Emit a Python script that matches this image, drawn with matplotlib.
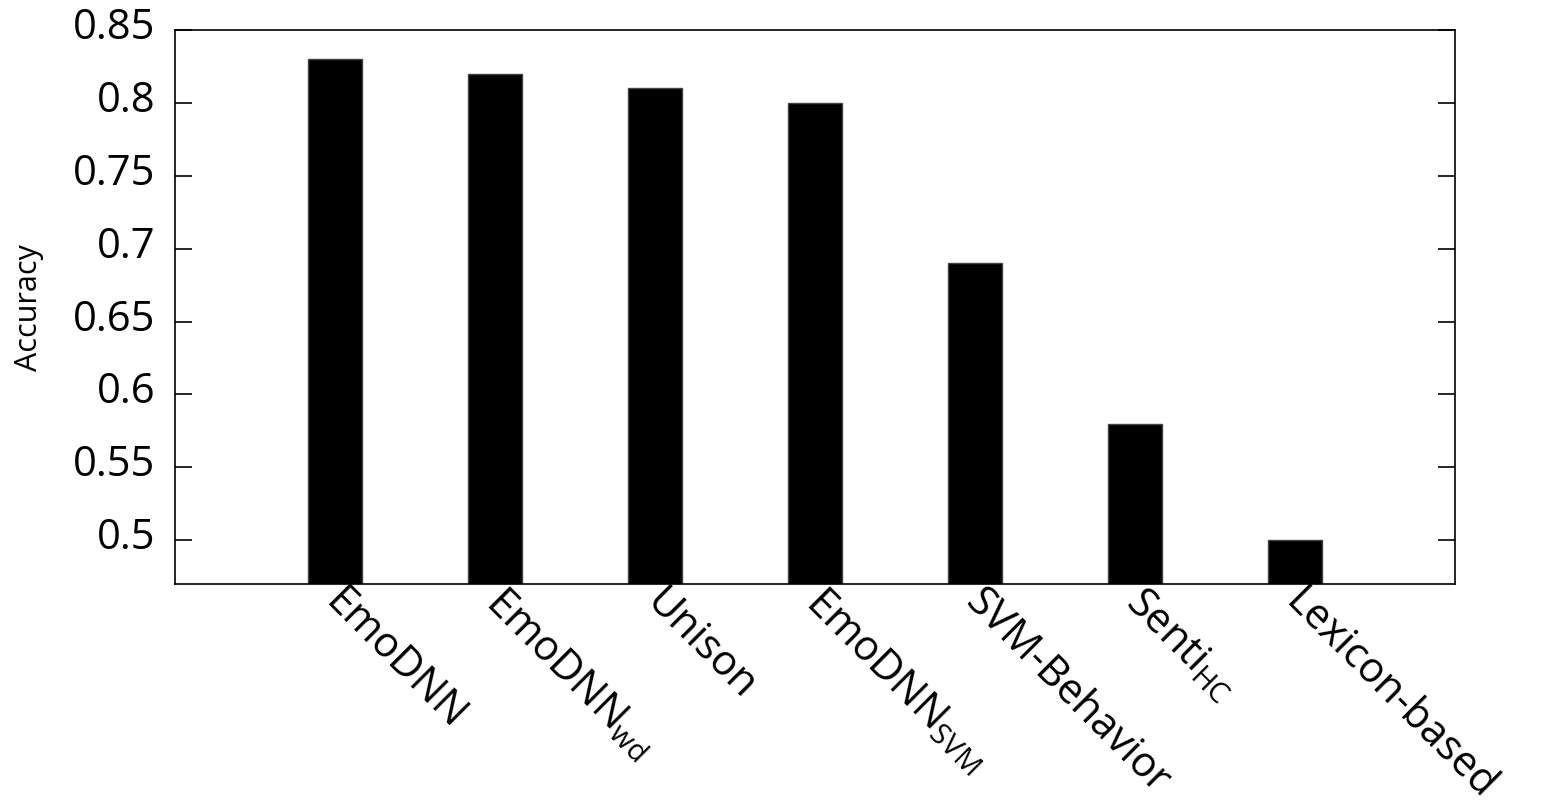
import numpy as np
import matplotlib
matplotlib.use("Agg")
import matplotlib.pyplot as plt
import matplotlib.transforms as mtransforms

# data
methods = ['EmoDNN', 'EmoDNN$_{\\mathrm{wd}}$', 'Unison', 'EmoDNN$_{\\mathrm{SVM}}$',
           'SVM-Behavior', 'Senti$_{\\mathrm{HC}}$', 'Lexicon-based']
accuracy = [0.83, 0.82, 0.81, 0.80, 0.69, 0.58, 0.50]
yticks = [0.5, 0.55, 0.6, 0.65, 0.7, 0.75, 0.8, 0.85]
ytick_labels = ['0.5', '0.55', '0.6', '0.65', '0.7', '0.75', '0.8', '0.85']

plt.rcParams['font.family'] = ['Open Sans', 'DejaVu Sans']
plt.rcParams['mathtext.fontset'] = 'custom'
plt.rcParams['mathtext.rm'] = 'Open Sans'
plt.rcParams['mathtext.it'] = 'Open Sans:italic'
plt.rcParams['mathtext.bf'] = 'Open Sans:bold'

fig = plt.figure(figsize=(15.64, 8.04), dpi=100)
ax = fig.add_axes([175 / 1564, 1 - 585 / 804, 1280 / 1564, 554 / 804])

x = np.arange(1, len(methods) + 1)
ax.bar(x, accuracy, width=0.34, color='black', edgecolor='#444444', linewidth=1)

ax.set_xlim(0, len(methods) + 1)
ax.set_ylim(0.47, 0.85)

ax.set_yticks(yticks)
ax.set_yticklabels(ytick_labels)
ax.tick_params(axis='y', direction='in', length=12, width=1.2, pad=14,
               labelsize=30, left=True, right=True)
ax.set_xticks(x)
ax.set_xticklabels(methods, rotation=-45, ha='left', va='top',
                   rotation_mode='anchor', fontsize=30)
ax.tick_params(axis='x', length=0, pad=0)

# y labels sit a little above their ticks, x labels start right at the tick
up = mtransforms.ScaledTranslation(0, 8 / 100, fig.dpi_scale_trans)
for lab in ax.get_yticklabels():
    lab.set_transform(lab.get_transform() + up)
right = mtransforms.ScaledTranslation(12 / 100, 4 / 100, fig.dpi_scale_trans)
for lab in ax.get_xticklabels():
    lab.set_transform(lab.get_transform() + right)

for spine in ax.spines.values():
    spine.set_linewidth(1.2)

fig.text(29 / 1564, 1 - 308 / 804, 'Accuracy', rotation=90,
         ha='center', va='center', fontsize=22)

fig.savefig('out.png', dpi=100)
